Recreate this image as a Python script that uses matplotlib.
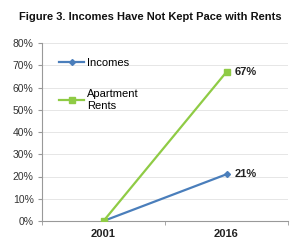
import numpy as np
import matplotlib.pyplot as plt

plt.rcParams['font.family'] = ['Liberation Sans', 'DejaVu Sans']

# data
years = ["2001", "2016"]
incomes = [0, 21]
rents = [0, 67]
y_ticks = [0, 10, 20, 30, 40, 50, 60, 70, 80]

blue = "#4a7ebb"
green = "#8fcb45"

fig = plt.figure(figsize=(3, 2.5), dpi=100)
ax = fig.add_axes([0.14, 0.116, 0.82, 0.712])

x = np.arange(len(years))
ax.plot(x, incomes, color=blue, lw=1.6, marker="D", ms=3, label="Incomes", zorder=3)
ax.plot(x, rents, color=green, lw=1.6, marker="s", ms=4, label="Apartment\nRents", zorder=3)

ax.text(x[1] + 0.07, rents[1], f"{rents[1]}%", fontsize=8, fontweight="bold",
        va="center", ha="left", color="#222222")
ax.text(x[1] + 0.07, incomes[1], f"{incomes[1]}%", fontsize=8, fontweight="bold",
        va="center", ha="left", color="#222222")

ax.set_xlim(-0.5, 1.5)
ax.set_ylim(0, 80)
ax.set_yticks(y_ticks)
ax.set_yticklabels([f"{v}%" for v in y_ticks], fontsize=7.5, color="#333333")
ax.set_xticks(x)
ax.set_xticklabels(years, fontsize=8, fontweight="bold", color="#222222")
ax.set_xticks([-0.5, 0.5, 1.5], minor=True)
ax.tick_params(axis="x", which="major", length=0, pad=6)
ax.tick_params(axis="x", which="minor", length=3, color="#999999")
ax.tick_params(axis="y", length=3, color="#999999", pad=3)

ax.grid(axis="y", color="#e6e6e6", lw=0.7)
ax.set_axisbelow(True)
for s in ["top", "right"]:
    ax.spines[s].set_visible(False)
for s in ["left", "bottom"]:
    ax.spines[s].set_color("#999999")
    ax.spines[s].set_linewidth(0.8)

ax.legend(loc="upper left", bbox_to_anchor=(0.03, 0.97), frameon=False, fontsize=8,
          handlelength=2.2, handletextpad=0.3, labelspacing=1.9)

fig.text(0.5, 0.93, "Figure 3. Incomes Have Not Kept Pace with Rents", ha="center",
         va="center", fontsize=8.0, fontweight="bold", color="#111111")

fig.savefig("out.png", dpi=100)
